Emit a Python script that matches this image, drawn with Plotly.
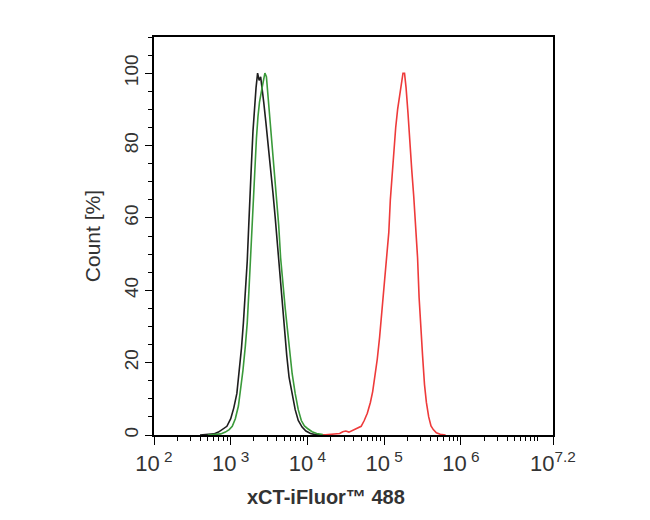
import plotly.graph_objects as go

# log10 of fluorescence intensity and count (%) for each histogram
black_log = [2.60, 2.70, 2.78, 2.84, 2.90, 2.95, 3.00, 3.04, 3.08, 3.11, 3.14, 3.165, 3.19, 3.215, 3.235, 3.25,
             3.27, 3.29, 3.31, 3.33, 3.35, 3.37, 3.39, 3.41, 3.43, 3.46, 3.49, 3.52, 3.55, 3.58, 3.61, 3.64,
             3.67, 3.70, 3.73, 3.76, 3.80, 3.84, 3.88, 3.93, 3.98, 4.04, 4.10, 4.20]
black_cnt = [0, 0.1, 0.3, 0.8, 1.6, 2.4, 4.5, 7.5, 11.5, 17, 24, 31, 39, 48, 58, 67,
             75, 84, 91, 96, 100, 98, 99, 96, 92, 86, 80, 73, 67, 60, 52, 44,
             36, 29, 22, 16, 11, 7, 4, 2.2, 1.1, 0.4, 0.1, 0]

green_log = [2.70, 2.80, 2.87, 2.93, 2.98, 3.02, 3.06, 3.10, 3.13, 3.16, 3.19, 3.215, 3.235, 3.255, 3.275,
             3.295, 3.315, 3.335, 3.355, 3.375, 3.40, 3.425, 3.445, 3.465, 3.485, 3.51, 3.54, 3.57, 3.60,
             3.625, 3.65, 3.68, 3.71, 3.74, 3.77, 3.80, 3.84, 3.88, 3.92, 3.96, 4.00, 4.06, 4.12, 4.20, 4.30]
green_cnt = [0, 0.1, 0.3, 0.8, 1.5, 2.4, 4.5, 8, 12.5, 18, 24.5, 31, 39, 48, 57,
             66, 74, 82, 88, 92, 95, 98, 100, 99, 94, 87, 80, 73, 66,
             58, 49, 41, 35, 29, 22, 17, 11.5, 7, 4, 2.5, 1.8, 0.9, 0.4, 0.1, 0]

red_log = [4.20, 4.30, 4.36, 4.42, 4.46, 4.50, 4.54, 4.58, 4.62, 4.66, 4.70, 4.74, 4.78, 4.82, 4.85, 4.88,
           4.91, 4.94, 4.965, 4.99, 5.015, 5.04, 5.06, 5.08, 5.10, 5.125, 5.15, 5.175, 5.20, 5.225, 5.245,
           5.265, 5.285, 5.31, 5.335, 5.36, 5.385, 5.41, 5.435, 5.455, 5.475, 5.50, 5.525, 5.55, 5.58, 5.61,
           5.64, 5.68, 5.73, 5.80]
red_cnt = [0, 0.2, 0.3, 0.4, 0.9, 1.1, 0.8, 1.2, 1.5, 1.8, 2.4, 4, 6, 9, 12, 16.5,
           21, 27, 33, 39, 44, 49, 56, 65, 71, 77, 85, 90, 94, 98, 100,
           100, 96, 89, 80, 73, 66, 57, 49, 38, 30, 22, 14, 9, 5, 2.5,
           1.5, 0.6, 0.2, 0]

x_tick_exp = [2, 3, 4, 5, 6, 7.2]
x_tick_text = ["10<sup> 2</sup>", "10<sup> 3</sup>", "10<sup> 4</sup>", "10<sup> 5</sup>", "10<sup> 6</sup>", "10<sup>7.2</sup>"]
y_tick_vals = [0, 20, 40, 60, 80, 100]

fig = go.Figure()
for lg, cnt, col in [(black_log, black_cnt, "#1e1e1e"),
                     (green_log, green_cnt, "#3a9a3a"),
                     (red_log, red_cnt, "#ee3a3a")]:
    fig.add_trace(go.Scatter(x=[10 ** v for v in lg], y=cnt, mode="lines",
                             line=dict(color=col, width=1.6), showlegend=False))

fig.update_layout(
    width=642, height=512,
    margin=dict(l=146, r=97, t=29, b=85),
    plot_bgcolor="white", paper_bgcolor="white",
    font=dict(family="Liberation Sans, Arial, sans-serif", color="#333333"),
)
fig.update_xaxes(
    type="log", range=[2, 7.2],
    tickvals=[10 ** e for e in x_tick_exp], ticktext=x_tick_text,
    tickfont=dict(size=22),
    ticks="outside", ticklen=8, tickcolor="black", tickwidth=1,
    minor=dict(ticks="outside", ticklen=4, tickcolor="black", dtick="D1"),
    showline=True, linecolor="black", linewidth=1.5, mirror=True,
    showgrid=False, zeroline=False,
)
fig.update_yaxes(
    range=[0, 110],
    tickvals=y_tick_vals,
    tickangle=-90, tickfont=dict(size=19),
    ticks="outside", ticklen=7, tickcolor="black", tickwidth=1,
    minor=dict(ticks="outside", ticklen=4, tickcolor="black", dtick=5, tick0=0),
    showline=True, linecolor="black", linewidth=1.5, mirror=True,
    showgrid=False, zeroline=False,
)
fig.add_annotation(text="Count [%]", xref="paper", yref="paper",
                   x=-0.155, y=0.5, textangle=-90, showarrow=False,
                   font=dict(size=21, color="#333333"), xanchor="center", yanchor="middle")
fig.add_annotation(text="<b>xCT-iFluor™ 488</b>", xref="paper", yref="paper",
                   x=0.431, y=-0.156, showarrow=False, font=dict(size=20, color="#333333"),
                   xanchor="center", yanchor="middle")

fig.write_html("out.html")
